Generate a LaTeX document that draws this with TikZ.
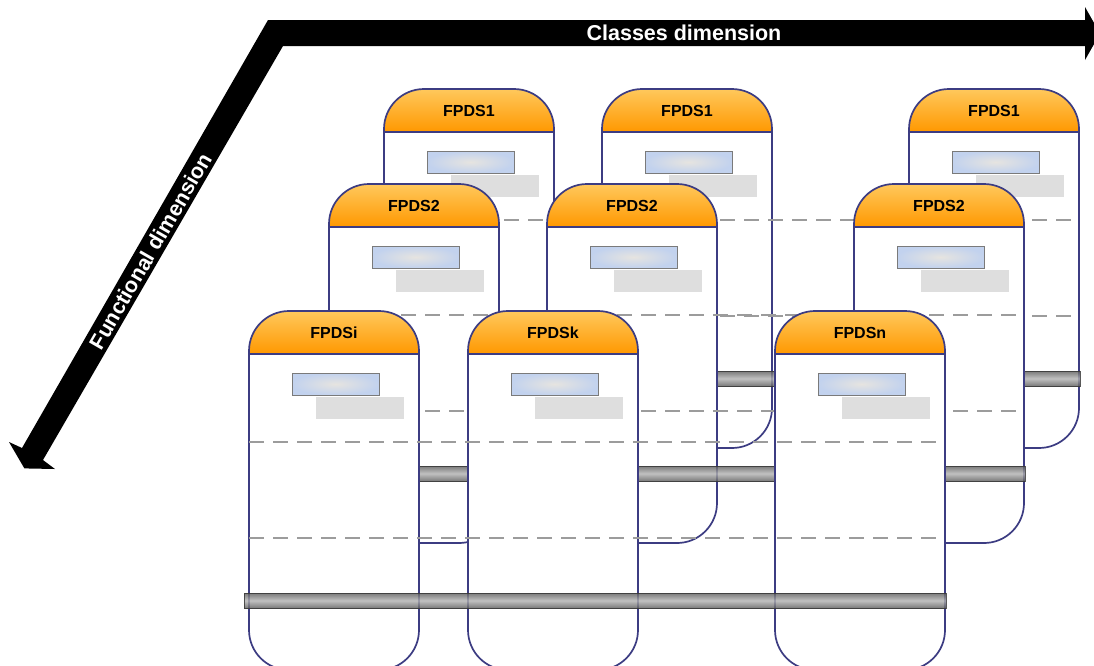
\documentclass[tikz,border=0pt]{standalone}
\usepackage{fontspec}
\setmainfont{Liberation Sans}

\definecolor{colborder}{HTML}{3C3C82}
\definecolor{orangetop}{HTML}{FFC85C}
\definecolor{orangebot}{HTML}{FF9800}
\definecolor{dashgray}{HTML}{9C9C9C}
\definecolor{boxgray}{HTML}{DEDEDE}
\definecolor{boxblue}{HTML}{C2D2EE}
\definecolor{boxhi}{HTML}{E6E4E0}
\definecolor{boxedge}{HTML}{7A7A7A}
\definecolor{bardark}{HTML}{5E5E5E}
\definecolor{barlight}{HTML}{B4B4B4}
\definecolor{baredge}{HTML}{333333}

\tikzset{
  colline/.style={draw=colborder, line width=1.7pt},
  headtext/.style={font=\fontsize{16}{19}\selectfont\bfseries, text=black, inner sep=0pt},
  dimtext/.style={font=\fontsize{21.5}{25}\selectfont\bfseries, text=white, inner sep=0pt},
  bluebox/.style={inner color=boxhi, outer color=boxblue, draw=boxedge, line width=0.9pt},
  graybox/.style={fill=boxgray},
  dashline/.style={draw=dashgray, line width=2pt, dash pattern=on 15pt off 9pt},
  pipebar/.style={top color=bardark, bottom color=bardark, middle color=barlight,
                  draw=baredge, line width=0.6pt, fill opacity=0.82, draw opacity=0.8},
}

% one FPDS column: node name, left x, top y, label
\newcommand\fpdscolumn[4]{%
  \begin{scope}[shift={(#2,#3)}]
    \fill[white, rounded corners=40pt] (0,0) rectangle (170,359);
    \begin{scope}
      \clip[rounded corners=40pt] (0,0) rectangle (170,359);
      \shade[top color=orangetop, bottom color=orangebot] (0,0) rectangle (170,43);
    \end{scope}
    \path[colline, rounded corners=40pt] (0,0) rectangle (170,359);
    \path[colline] (0,43) -- (170,43);
    \node[headtext] (#1) at (85,21.5) {#4};
    \shade[bluebox] (43,62) rectangle (130,84);
    \fill[graybox] (67,86) rectangle (155,108);
  \end{scope}%
}

% dashed guides and pipe of one row: left x, right x, top y
\newcommand\fpdsrow[3]{%
  \path[dashline] (#1,#3+131) -- (#2-4,#3+131);
  \path[dashline] (#1,#3+227) -- (#2-4,#3+227);
  \shade[pipebar] (#1-5,#3+282) rectangle (#2+1,#3+297);
}

\begin{document}
\begin{tikzpicture}[x=1pt, y=-1pt]
  \useasboundingbox (0,0) rectangle (1094,665);
  \clip (0,0) rectangle (1094,665);

  % bent double arrow of the two dimensions
  \fill[black] (268,20) -- (1085,20) -- (1085,7) -- (1100,33.5) -- (1085,60)
     -- (1085,46) -- (283,46) -- (43,460) -- (55,469) -- (24.4,468.4)
     -- (9,442) -- (22,448) -- cycle;
  \node[dimtext] (classes) at (684,33) {Classes dimension};
  \node[dimtext, rotate=60] (functional) at (150.5,251) {Functional dimension};

  % back row
  \fpdscolumn{b1}{384}{89}{FPDS1}
  \fpdscolumn{b2}{602}{89}{FPDS1}
  \fpdscolumn{b3}{909}{89}{FPDS1}
  \fpdsrow{384}{1079}{89}

  % middle row
  \fpdscolumn{m1}{329}{184}{FPDS2}
  \fpdscolumn{m2}{547}{184}{FPDS2}
  \fpdscolumn{m3}{854}{184}{FPDS2}
  \fpdsrow{329}{1024}{184}

  % front row
  \fpdscolumn{f1}{249}{311}{FPDSi}
  \fpdscolumn{f2}{468}{311}{FPDSk}
  \fpdscolumn{f3}{775}{311}{FPDSn}
  \fpdsrow{249}{945}{311}
\end{tikzpicture}
\end{document}
